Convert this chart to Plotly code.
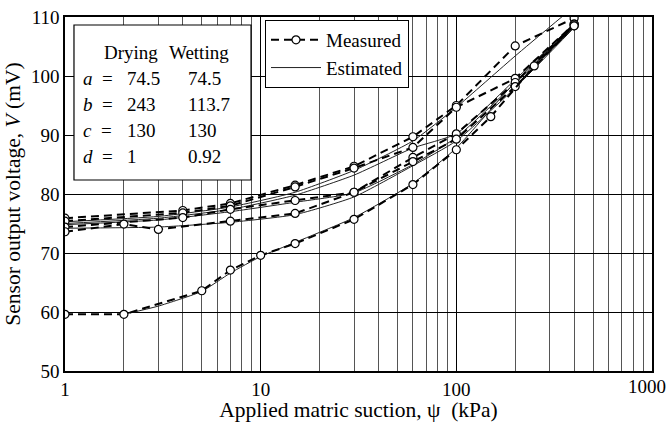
import plotly.graph_objects as go

# Measured sensor voltage (mV) against applied matric suction (kPa)
m1_x = [1, 4, 7, 15, 30, 60, 100, 200, 400]
m1_y = [75.9, 77.2, 78.4, 81.5, 84.7, 89.7, 95.0, 105.1, 109.8]
m2_x = [1, 4, 7, 15, 30, 60, 100, 200, 400]
m2_y = [75.4, 76.8, 78.0, 81.2, 84.4, 87.9, 94.7, 99.6, 108.8]
m3_x = [1, 4, 7, 15, 30, 60, 100, 200, 400]
m3_y = [74.4, 76.0, 77.4, 78.9, 80.3, 86.2, 90.2, 98.9, 108.8]
m4_x = [1, 2, 3, 7, 15, 30, 60, 100, 200, 400]
m4_y = [73.6, 74.9, 74.0, 75.4, 76.7, 80.3, 85.5, 89.3, 98.2, 108.5]
m5_x = [1, 2, 5, 7, 10, 15, 30, 60, 100, 150, 250, 400]
m5_y = [59.6, 59.6, 63.6, 67.1, 69.6, 71.6, 75.7, 81.6, 87.5, 93.1, 101.7, 108.5]

# Estimated sensor voltage (mV)
e1_x = [1, 3, 7, 15, 30, 60, 100, 200, 360]
e1_y = [75.3, 76.2, 77.8, 80.3, 84.0, 89.0, 94.7, 103.4, 110.5]
e2_x = [1, 3, 7, 15, 30, 60, 100, 200, 400]
e2_y = [75.0, 75.9, 77.4, 79.8, 83.2, 87.8, 90.2, 99.4, 108.8]
e3_x = [1, 3, 7, 15, 30, 60, 100, 200, 400]
e3_y = [74.8, 75.6, 77.0, 78.6, 80.2, 85.0, 89.6, 98.8, 108.6]
e4_x = [1, 3, 7, 15, 30, 60, 100, 200, 400]
e4_y = [74.2, 74.4, 75.2, 76.5, 79.5, 84.8, 89.0, 98.0, 108.2]
e5_x = [2, 3, 5, 7, 10, 15, 30, 60, 100, 200, 400]
e5_y = [59.6, 61.0, 63.5, 66.6, 69.4, 71.8, 76.0, 81.8, 87.8, 99.0, 108.6]

# Model parameters
param_names = ["a", "b", "c", "d"]
drying_vals = ["74.5", "243", "130", "1"]
wetting_vals = ["74.5", "113.7", "130", "0.92"]

x_ticks = [1, 10, 100, 1000]
x_tick_text = ["1", "10", "100", "1000"]
y_ticks = [50, 60, 70, 80, 90, 100, 110]
minor_x = [m * d for d in (1, 10, 100) for m in range(2, 10)]

FONT = "'Liberation Serif', 'Times New Roman', 'DejaVu Serif', serif"

fig = go.Figure()

estimated = [(e1_x, e1_y), (e2_x, e2_y), (e3_x, e3_y), (e4_x, e4_y), (e5_x, e5_y)]
for i, (xs, ys) in enumerate(estimated):
    fig.add_trace(go.Scatter(
        x=xs, y=ys, mode="lines", name="Estimated",
        line=dict(color="#222", width=1, shape="spline", smoothing=0.5),
        showlegend=(i == 0), legendrank=2,
    ))

measured = [(m1_x, m1_y), (m2_x, m2_y), (m3_x, m3_y), (m4_x, m4_y), (m5_x, m5_y)]
for i, (xs, ys) in enumerate(measured):
    fig.add_trace(go.Scatter(
        x=xs, y=ys, mode="lines+markers", name="Measured",
        line=dict(color="black", width=2, dash="8px,5px"),
        marker=dict(symbol="circle", size=8, color="white",
                    line=dict(color="black", width=1.2)),
        showlegend=(i == 0), legendrank=1,
    ))

# Parameter table box
fig.add_shape(type="rect", xref="paper", yref="paper",
              x0=0.0153, x1=0.3169, y0=0.5395, y1=0.9774,
              line=dict(color="black", width=1.2), fillcolor="white", layer="above")

def py(pix):
    return (371 - pix) / 354

def px(pix):
    return (pix - 65) / 587

tfont = dict(family=FONT, size=19, color="black")
fig.add_annotation(x=px(102), y=py(52), text="Drying", xref="paper", yref="paper",
                   showarrow=False, xanchor="left", yanchor="middle", font=tfont)
fig.add_annotation(x=px(167), y=py(52), text="Wetting", xref="paper", yref="paper",
                   showarrow=False, xanchor="left", yanchor="middle", font=tfont)
row_y = [78, 104, 130, 156]
for name, dv, wv, ry in zip(param_names, drying_vals, wetting_vals, row_y):
    fig.add_annotation(x=px(81), y=py(ry), text=f"<i>{name}</i>  =", xref="paper", yref="paper",
                       showarrow=False, xanchor="left", yanchor="middle", font=tfont)
    fig.add_annotation(x=px(125), y=py(ry), text=dv, xref="paper", yref="paper",
                       showarrow=False, xanchor="left", yanchor="middle", font=tfont)
    fig.add_annotation(x=px(186), y=py(ry), text=wv, xref="paper", yref="paper",
                       showarrow=False, xanchor="left", yanchor="middle", font=tfont)

# Last x tick label, right-aligned so it stays inside the page
fig.add_annotation(x=3, y=0, xref="x", yref="paper", text=x_tick_text[-1],
                   showarrow=False, xanchor="right", yanchor="top",
                   xshift=16, yshift=-3, font=dict(family=FONT, size=19))

fig.update_layout(
    width=669, height=422,
    margin=dict(l=65, r=17, t=17, b=51, autoexpand=False),
    paper_bgcolor="white", plot_bgcolor="white",
    font=dict(family=FONT, size=19, color="black"),
    legend=dict(x=px(265), y=py(20), xanchor="left", yanchor="top",
                bordercolor="black", borderwidth=1, bgcolor="white",
                itemwidth=50, font=dict(family=FONT, size=19),
                traceorder="normal"),
    xaxis=dict(
        type="log", range=[0, 3], automargin=False,
        tickvals=x_ticks[:-1], ticktext=x_tick_text[:-1],
        tickfont=dict(family=FONT, size=19), ticklabeloverflow="allow",
        showgrid=True, gridcolor="black", gridwidth=1,
        minor=dict(tickvals=minor_x, showgrid=True, gridcolor="#555", gridwidth=1, ticks=""),
        showline=True, linecolor="black", linewidth=1.5, mirror=True,
        ticks="", ticklen=0, zeroline=False,
        title=dict(text="Applied matric suction, ψ  (kPa)", standoff=2,
                   font=dict(family=FONT, size=21.5)),
    ),
    yaxis=dict(
        range=[50, 110], tickvals=y_ticks, automargin=False,
        tickfont=dict(family=FONT, size=19), ticklabeloverflow="allow",
        showgrid=True, gridcolor="black", gridwidth=1,
        showline=True, linecolor="black", linewidth=1.5, mirror=True,
        ticks="", ticklen=0, zeroline=False,
        title=dict(text="Sensor output voltage, <i>V</i> (mV)", standoff=4,
                   font=dict(family=FONT, size=21.5)),
    ),
)

fig.write_html("out.html")
